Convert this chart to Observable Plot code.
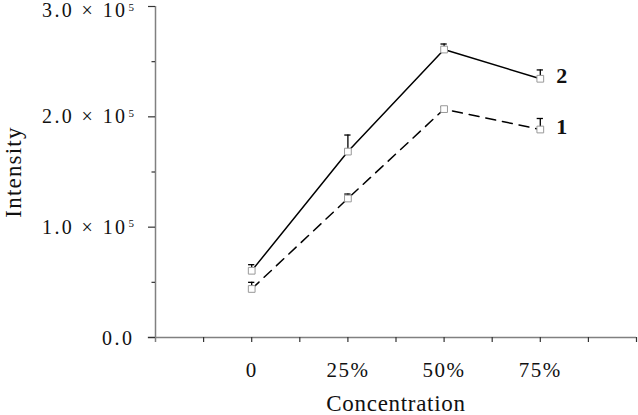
<!DOCTYPE html>
<html>
<head>
<meta charset="utf-8">
<script src="https://cdn.jsdelivr.net/npm/d3@7"></script>
<script src="https://cdn.jsdelivr.net/npm/@observablehq/plot@0.6"></script>
<style>
  html, body { margin: 0; padding: 0; background: #fff; }
  #chart svg { display: block; }
</style>
</head>
<body>
<div id="chart"></div>
<script>
const categories = ["0", "25%", "50%", "75%"];
const series1 = [44000, 126000, 207000, 188500];
const err1 = [6000, 4000, 2000, 10000];
const series2 = [60500, 168500, 261000, 234500];
const err2 = [5500, 15000, 5000, 8000];
const seriesNames = ["1", "2"];
const yTickValues = [0, 100000, 200000, 300000];
const yTickMain = ["0.0", "1.0 \u00D7 10", "2.0 \u00D7 10", "3.0 \u00D7 10"];
const yTickExp = ["", "5", "5", "5"];
const yMinorTicks = [50000, 150000, 250000];

const font = "Liberation Serif";
const data = [];
categories.forEach((c, i) => {
  data.push({pos: i * 2, cat: c, series: "1", v: series1[i], e: err1[i]});
  data.push({pos: i * 2, cat: c, series: "2", v: series2[i], e: err2[i]});
});
const s1 = data.filter(d => d.series === "1");
const s2 = data.filter(d => d.series === "2");
const last = categories.length - 1;
const endLabels = [
  {pos: last * 2, v: series2[last], t: seriesNames[1]},
  {pos: last * 2, v: series1[last], t: seriesNames[0]}
];
const yTicks = yTickValues.map((v, i) => ({v, main: yTickMain[i], exp: yTickExp[i]}));
const yTop = yTicks.filter(d => d.v === 300000);
const yMid = yTicks.filter(d => d.v !== 300000 && d.exp);
const yZero = yTicks.filter(d => !d.exp);
const capHalf = 0.065;

// helper: add letter-spacing to a text mark
const spaced = (ls) => (index, scales, values, dims, ctx, next) => {
  const g = next(index, scales, values, dims, ctx);
  g.setAttribute("letter-spacing", ls);
  return g;
};

const chart = Plot.plot({
  width: 638,
  height: 415,
  marginLeft: 155,
  marginRight: 2,
  marginTop: 6,
  marginBottom: 78,
  style: {fontFamily: font, background: "#fff"},
  x: {type: "linear", domain: [-2, 8], axis: null},
  y: {type: "linear", domain: [0, 300000], axis: null},
  marks: [
    // axes lines
    Plot.ruleY([0], {x1: -2.15, x2: 8, stroke: "#808080", strokeWidth: 1.5}),
    Plot.ruleX([-2], {y1: -4500, y2: 300000, stroke: "#808080", strokeWidth: 1.5}),
    // y ticks
    Plot.axisY({ticks: yTickValues, tickSize: 7, tickFormat: () => "", stroke: "#333", strokeWidth: 1.2, label: null}),
    Plot.axisY({ticks: yMinorTicks, tickSize: 3.5, tickFormat: () => "", stroke: "#333", strokeWidth: 1.2, label: null}),
    // x ticks
    Plot.axisX({ticks: d3.range(-1, 9), tickSize: 5, tickFormat: () => "", stroke: "#333", strokeWidth: 1.2, label: null}),
    // y tick labels
    Plot.text(yMid, {y: "v", text: "main", frameAnchor: "left", dx: -28, textAnchor: "end",
      fontSize: 20, fill: "#111", render: spaced("2.4")}),
    Plot.text(yMid, {y: "v", text: "exp", frameAnchor: "left", dx: -27, dy: -3.5, textAnchor: "start",
      fontSize: 11, fill: "#111"}),
    Plot.text(yTop, {y: "v", text: "main", frameAnchor: "left", dx: -28, dy: 4.5, textAnchor: "end",
      fontSize: 20, fill: "#111", render: spaced("2.4")}),
    Plot.text(yTop, {y: "v", text: "exp", frameAnchor: "left", dx: -27, dy: 1, textAnchor: "start",
      fontSize: 11, fill: "#111"}),
    Plot.text(yZero, {y: "v", text: "main", frameAnchor: "left", dx: -21, dy: 1, textAnchor: "end",
      fontSize: 20, fill: "#111", render: spaced("2.5")}),
    // x tick labels
    Plot.text(categories, {x: (d, i) => i * 2, y: 0, dy: 33, text: d => d, fontSize: 21, fill: "#111", render: spaced("1.5")}),
    // axis titles
    Plot.text(["Concentration"], {frameAnchor: "bottom", dy: 73, text: d => d, fontSize: 23, fill: "#111", render: spaced("0.7")}),
    Plot.text(["Intensity"], {x: -2, y: 150000, dx: -142, rotate: -90, text: d => d, fontSize: 23, fill: "#111", render: spaced("1.2")}),
    // lines
    Plot.line(s2, {x: "pos", y: "v", stroke: "#000", strokeWidth: 1.5}),
    Plot.line(s1, {x: "pos", y: "v", stroke: "#000", strokeWidth: 1.5, strokeDasharray: "10,7"}),
    // error bars
    Plot.ruleX(data, {x: "pos", y1: "v", y2: d => d.v + d.e, stroke: "#000", strokeWidth: 1.3}),
    Plot.ruleY(data, {y: d => d.v + d.e, x1: d => d.pos - capHalf, x2: d => d.pos + capHalf, stroke: "#000", strokeWidth: 1.3}),
    // markers
    Plot.dot(data, {x: "pos", y: "v", symbol: "square", r: 3.8, fill: "#fff", stroke: "#999", strokeWidth: 1}),
    // series labels
    Plot.text(endLabels, {x: "pos", y: "v", text: "t", dx: 16, dy: -2.5, textAnchor: "start", fontSize: 22, fontWeight: "bold", fill: "#111"})
  ]
});
document.getElementById("chart").appendChild(chart);
</script>
</body>
</html>
